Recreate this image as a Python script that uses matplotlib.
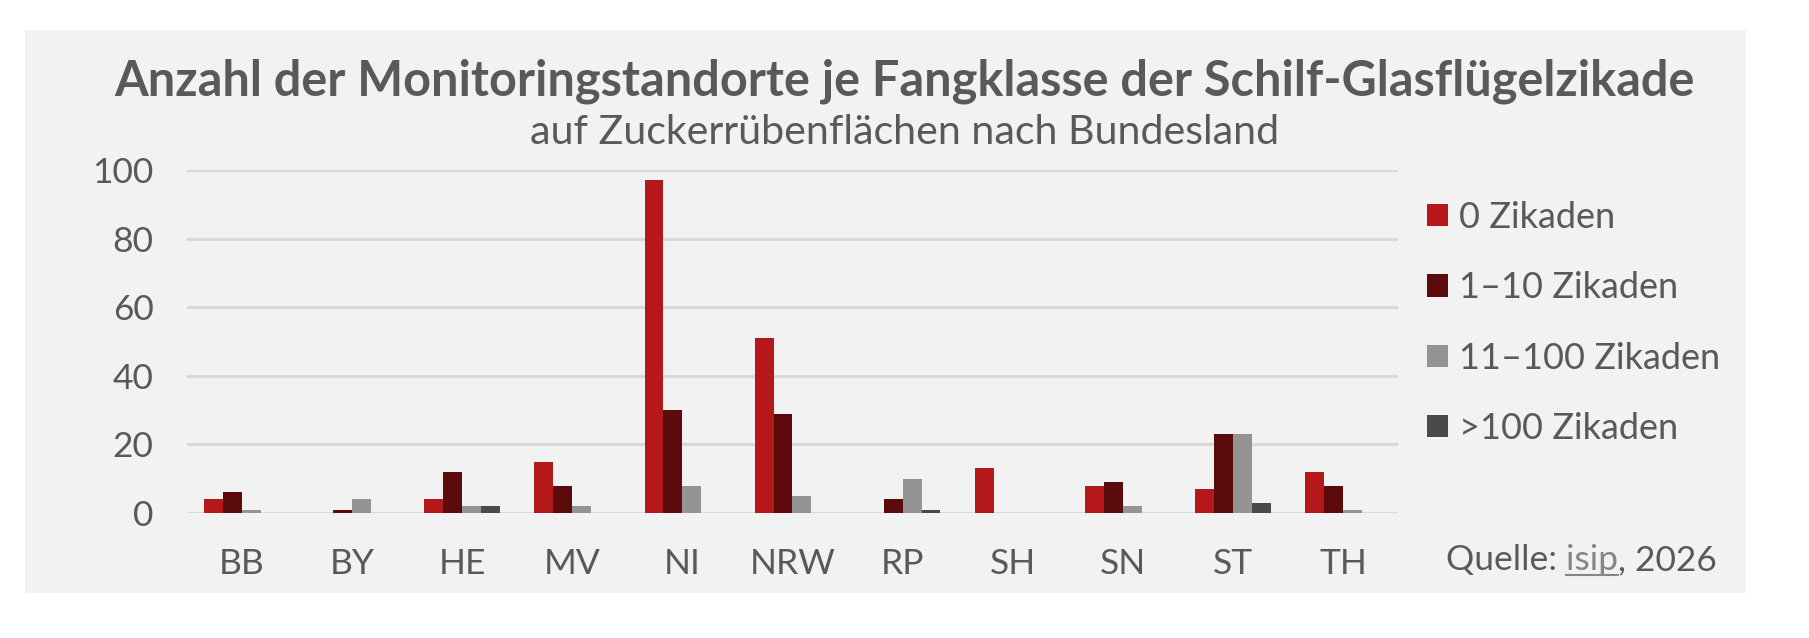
import numpy as np
import matplotlib
matplotlib.use("Agg")
import matplotlib.pyplot as plt
from matplotlib.patches import Rectangle
from matplotlib.lines import Line2D

plt.rcParams['font.family'] = ['Lato', 'DejaVu Sans']

# Data
states = ["BB", "BY", "HE", "MV", "NI", "NRW", "RP", "SH", "SN", "ST", "TH"]
classes = ["0 Zikaden", "1\u201310 Zikaden", "11\u2013100 Zikaden", ">100 Zikaden"]
zero = [4, 0, 4, 15, 97, 51, 0, 13, 8, 7, 12]
low = [6, 1, 12, 8, 30, 29, 4, 0, 9, 23, 8]
mid = [1, 4, 2, 2, 8, 5, 10, 0, 2, 23, 1]
high = [0, 0, 2, 0, 0, 0, 1, 0, 0, 3, 0]
yticks = [0, 20, 40, 60, 80, 100]

colors = ["#B5181A", "#5C0B0D", "#949494", "#4A4A4A"]
text_col = "#595959"

W, H = 1809, 638
fig = plt.figure(figsize=(W / 100, H / 100), dpi=100)
fig.patch.set_facecolor("white")

# grey panel behind the chart
fig.patches.append(Rectangle((25 / W, 45 / H), 1721 / W, 563 / H,
                             transform=fig.transFigure, facecolor="#F2F2F2",
                             edgecolor="none", zorder=-5))

ax = fig.add_axes([187 / W, (H - 513) / H, 1211 / W, 343 / H])
ax.set_facecolor("none")

x = np.arange(len(states))
bw = 0.172
for i, (vals, lab) in enumerate(zip([zero, low, mid, high], classes)):
    ax.bar(x + (i - 1.5) * bw, vals, bw, color=colors[i], label=lab, zorder=3)

ax.set_xlim(-0.5, len(states) - 0.5)
ax.set_ylim(0, 100)
ax.set_yticks(yticks)
ax.set_xticks(x)
ax.set_xticklabels(states)
ax.grid(axis="y", color="#D9D9D9", linewidth=2.2)
ax.set_axisbelow(True)
for s in ax.spines.values():
    s.set_visible(False)
ax.tick_params(length=0, labelsize=25.5, colors=text_col)
ax.tick_params(axis="y", pad=24)
ax.tick_params(axis="x", pad=25.5)

fig.text(0.5, (H - 95) / H, "Anzahl der Monitoringstandorte je Fangklasse der Schilf-Glasflügelzikade",
         ha="center", va="baseline", fontsize=35, fontweight="bold", color=text_col)
fig.text(0.5, (H - 144) / H, "auf Zuckerrübenflächen nach Bundesland",
         ha="center", va="baseline", fontsize=29.6, color=text_col)

fig.legend(loc="upper left", bbox_to_anchor=(1413 / W, (H - 186.5) / H),
           frameon=False, fontsize=26, labelcolor=text_col,
           handlelength=0.57, handleheight=0.57, handletextpad=0.3,
           labelspacing=1.035, borderaxespad=0)

# source line with underlined link
base = (H - 570) / H
t1 = fig.text(1446 / W, base, "Quelle: ", ha="left", va="baseline",
              fontsize=25.5, color=text_col)
t2 = fig.text(0, base, "isip", ha="left", va="baseline", fontsize=25.5, color="#858585")
t3 = fig.text(0, base, ", 2026", ha="left", va="baseline", fontsize=25.5, color=text_col)
fig.canvas.draw()
r = fig.canvas.get_renderer()
b1 = t1.get_window_extent(r)
t2.set_x(b1.x1 / W)
b2 = t2.get_window_extent(r)
t3.set_x(b2.x1 / W)
uy = (H - 575) / H
fig.lines.append(Line2D([b2.x0 / W, b2.x1 / W], [uy, uy], transform=fig.transFigure,
                        color="#858585", linewidth=1.5))

fig.savefig("out.png", dpi=100, facecolor="white")
